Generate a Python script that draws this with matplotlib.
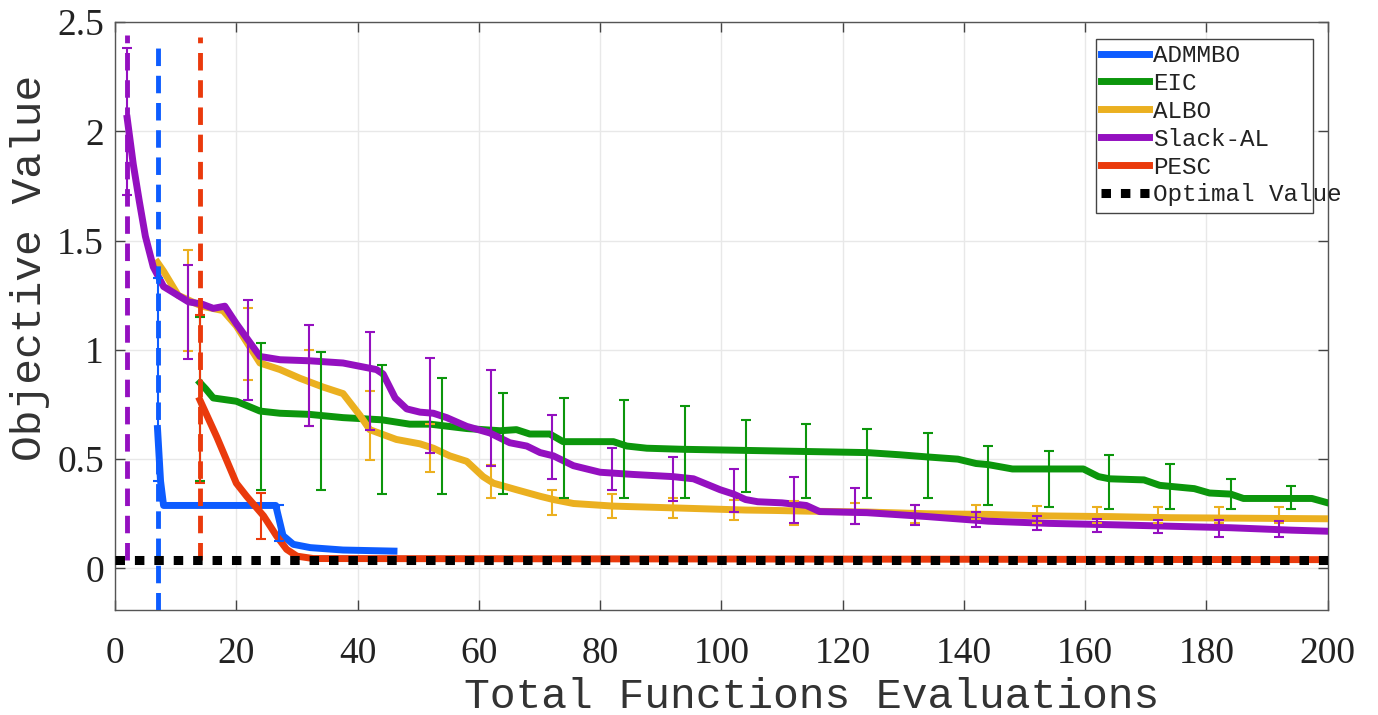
import numpy as np
import matplotlib
matplotlib.use('Agg')
import matplotlib.pyplot as plt
from matplotlib.patches import Rectangle
from matplotlib.ticker import FormatStrFormatter

# series
admmbo_x = [7, 7.5, 8, 26.5, 27.7, 29.4, 32.2, 37.6, 46]
admmbo_y = [0.64, 0.40, 0.288, 0.288, 0.15, 0.11, 0.095, 0.084, 0.079]
admmbo_ex = [7, 27]
admmbo_lo = [0.40, 0.125]
admmbo_hi = [1.33, 0.29]

eic_x = [14, 15, 16.2, 20, 23.9, 27.2, 32, 37.6, 44, 48.6, 52, 58, 63.5, 66.2, 68.4, 71.7, 73.9,
         82.2, 84.4, 87.7, 93.7, 104, 114, 124, 129.4, 134, 139, 142, 144, 148, 159.7, 162.2,
         164, 169.7, 172.3, 178, 180.5, 184, 186.1, 197.4, 200]
eic_y = [0.85, 0.82, 0.78, 0.765, 0.72, 0.71, 0.705, 0.69, 0.68, 0.66, 0.66, 0.64, 0.63, 0.635,
         0.615, 0.615, 0.58, 0.58, 0.56, 0.55, 0.545, 0.54, 0.535, 0.53, 0.52, 0.51, 0.50, 0.48,
         0.475, 0.455, 0.455, 0.42, 0.41, 0.405, 0.38, 0.365, 0.345, 0.34, 0.32, 0.32, 0.30]
eic_ex = [14, 24, 34, 44, 54, 64, 74, 84, 94, 104, 114, 124, 134, 144, 154, 164, 174, 184, 194]
eic_lo = [0.40, 0.36, 0.36, 0.34, 0.34, 0.34, 0.32, 0.32, 0.32, 0.35, 0.32, 0.32, 0.32, 0.29,
          0.28, 0.274, 0.27, 0.27, 0.27]
eic_hi = [1.15, 1.03, 0.99, 0.93, 0.87, 0.805, 0.78, 0.77, 0.745, 0.68, 0.66, 0.64, 0.62, 0.56,
          0.535, 0.52, 0.48, 0.41, 0.375]

albo_x = [7, 8, 10.4, 14.3, 17.8, 20, 23.9, 27.2, 30.5, 34.3, 37.6, 40.4, 42, 46.4, 50.3, 52.5,
          55.2, 58, 60.7, 62.4, 66.2, 70.1, 72.3, 75.6, 82.2, 92, 104, 109, 114, 124, 134, 144,
          154, 164, 174, 200]
albo_y = [1.40, 1.36, 1.25, 1.20, 1.18, 1.11, 0.94, 0.91, 0.87, 0.83, 0.80, 0.70, 0.635, 0.59,
          0.57, 0.55, 0.515, 0.49, 0.42, 0.39, 0.36, 0.33, 0.315, 0.297, 0.285, 0.277, 0.267,
          0.265, 0.262, 0.258, 0.25, 0.247, 0.24, 0.237, 0.232, 0.227]
albo_ex = [12, 22, 32, 42, 52, 62, 72, 82, 92, 102, 112, 122, 132, 142, 152, 162, 172, 182, 192]
albo_lo = [0.995, 0.86, 0.65, 0.495, 0.44, 0.32, 0.245, 0.23, 0.23, 0.22, 0.20, 0.205, 0.21,
           0.225, 0.21, 0.21, 0.21, 0.21, 0.21]
albo_hi = [1.455, 1.19, 1.0, 0.81, 0.66, 0.475, 0.36, 0.34, 0.32, 0.315, 0.31, 0.30, 0.29, 0.29,
           0.285, 0.28, 0.28, 0.28, 0.28]

slack_x = [2, 3, 4, 5, 6.3, 8, 12.1, 14.3, 16.2, 18.1, 20, 23.9, 27.2, 32.2, 37.6, 43.1, 44.2,
           46.2, 48.1, 50.3, 52.5, 54.7, 58, 61.8, 65.1, 67.9, 70.1, 72.3, 75.6, 80, 85.4, 92,
           95.4, 99.8, 102, 104, 106, 110, 114, 116.2, 124, 134, 144, 154, 164, 174, 184, 194, 200]
slack_y = [2.06, 1.85, 1.68, 1.52, 1.38, 1.29, 1.22, 1.21, 1.19, 1.20, 1.12, 0.97, 0.955, 0.95,
           0.94, 0.91, 0.89, 0.78, 0.73, 0.715, 0.71, 0.69, 0.65, 0.62, 0.575, 0.56, 0.53, 0.515,
           0.47, 0.44, 0.43, 0.42, 0.41, 0.36, 0.34, 0.315, 0.305, 0.30, 0.288, 0.26, 0.255,
           0.237, 0.216, 0.206, 0.20, 0.193, 0.186, 0.175, 0.17]
slack_ex = [2, 12, 22, 32, 42, 52, 62, 72, 82, 92, 102, 112, 122, 132, 142, 152, 162, 172, 182, 192]
slack_lo = [1.71, 0.958, 0.77, 0.65, 0.635, 0.53, 0.47, 0.41, 0.36, 0.31, 0.26, 0.21, 0.205,
            0.197, 0.19, 0.175, 0.166, 0.16, 0.145, 0.145]
slack_hi = [2.38, 1.39, 1.23, 1.115, 1.08, 0.965, 0.91, 0.70, 0.55, 0.51, 0.455, 0.42, 0.37,
            0.29, 0.26, 0.24, 0.227, 0.22, 0.22, 0.216]

pesc_x = [14, 16.8, 20, 21.7, 24.5, 26.6, 28.3, 30, 32.7, 200]
pesc_y = [0.77, 0.60, 0.39, 0.33, 0.24, 0.15, 0.087, 0.056, 0.045, 0.04]
pesc_ex = [14, 24]
pesc_lo = [0.39, 0.135]
pesc_hi = [1.16, 0.345]

optimal = 0.04
vline_x = [2, 7, 14]
vline_bot = [0.04, -0.19, 0.04]
vline_top = [2.44, 2.42, 2.43]

names = ['ADMMBO', 'EIC', 'ALBO', 'Slack-AL', 'PESC']
colors = ['#0d5cff', '#0c960c', '#ebb020', '#9410c0', '#ea3a0c']
xs = [admmbo_x, eic_x, albo_x, slack_x, pesc_x]
ys = [admmbo_y, eic_y, albo_y, slack_y, pesc_y]
exs = [admmbo_ex, eic_ex, albo_ex, slack_ex, pesc_ex]
los = [admmbo_lo, eic_lo, albo_lo, slack_lo, pesc_lo]
his = [admmbo_hi, eic_hi, albo_hi, slack_hi, pesc_hi]

fig = plt.figure(figsize=(13.78, 7.15), dpi=100)
ax = fig.add_axes([0.0835, 0.147, 0.880, 0.822])

for i in range(5):
    ax.plot(xs[i], ys[i], color=colors[i], lw=5, label=names[i], zorder=3,
            solid_joinstyle='round')
    lo = np.array(los[i])
    hi = np.array(his[i])
    mid = (lo + hi) / 2
    ax.errorbar(exs[i], mid, yerr=(hi - lo) / 2, fmt='none', ecolor=colors[i],
                elinewidth=1.5, capsize=3.5, capthick=1.5, zorder=4)

# marks where each method starts
vcol = [colors[3], colors[0], colors[4]]
for k in range(3):
    ax.plot([vline_x[k], vline_x[k]], [vline_bot[k], vline_top[k]], color=vcol[k], lw=3.5,
            dashes=(3.6, 2), zorder=5)

ax.plot([0, 200], [optimal, optimal], color='black', lw=6.5, dashes=(1.05, 1.1),
        label='Optimal Value', zorder=6)

ax.set_xlim(0, 200)
ax.set_ylim(-0.19, 2.5)
ax.set_xticks(np.arange(0, 201, 20))
ax.set_yticks([0, 0.5, 1, 1.5, 2, 2.5])
ax.yaxis.set_major_formatter(FormatStrFormatter('%g'))
ax.grid(True, color='#e8e8e8', lw=1)
ax.set_axisbelow(True)
ax.tick_params(direction='in', top=True, right=True, length=7, width=1, color='#444444')
ax.tick_params(axis='x', pad=19)
ax.tick_params(axis='y', pad=8)
for t in ax.get_xticklabels() + ax.get_yticklabels():
    t.set_fontfamily('Liberation Serif')
    t.set_fontsize(27)
    t.set_color('#222222')
for s in ax.spines.values():
    s.set_color('#555555')
    s.set_linewidth(1)

ax.set_xlabel('Total Functions Evaluations', family='Liberation Mono', fontsize=31,
              color='#333333')
ax.xaxis.set_label_coords(0.5746, -0.114)
ax.set_ylabel('Objective Value', family='Liberation Mono', fontsize=31, color='#333333')
ax.yaxis.set_label_coords(-0.054, 0.582)

# legend: text runs past the box like in the original
leg = ax.legend(loc='upper left', bbox_to_anchor=(0.8087, 0.971), borderaxespad=0,
                prop={'family': 'Liberation Mono', 'size': 17.5}, frameon=False,
                borderpad=0.2, labelspacing=0.2, handlelength=2, handletextpad=0.15)
for t in leg.get_texts():
    t.set_color('#222222')
ax.add_patch(Rectangle((0.8087, 0.675), 0.1789, 0.296, transform=ax.transAxes,
                       facecolor='white', edgecolor='#444444', lw=1, zorder=7))
leg.set_zorder(8)

fig.savefig('out.png', dpi=100)
